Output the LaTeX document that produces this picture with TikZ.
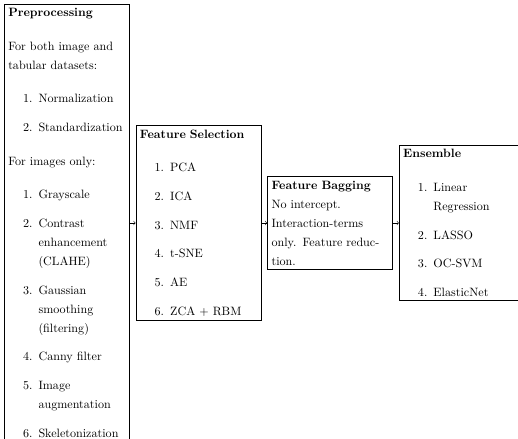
\documentclass[tikz,border=0pt]{standalone}
\usepackage{enumitem}
\usetikzlibrary{positioning}
\linespread{1.31}
\setlist[enumerate]{topsep=12pt}

\tikzset{
  stage/.style={draw, text width=3.4cm, inner sep=0.333em},
  link/.style={->}
}

\begin{document}
\begin{tikzpicture}
  \useasboundingbox (0,0) rectangle (428.1pt,-362.8pt);
  \clip (0,0) rectangle (428.1pt,-362.8pt);

  \node[stage, anchor=west] (prep) at (3.3pt,-184.3pt) {%
    \textbf{Preprocessing}\par\vspace{12pt}
    For both image and tabular datasets:
    \begin{enumerate}
      \item Normalization
      \item Standardization
    \end{enumerate}
    For images only:
    \begin{enumerate}
      \item Grayscale
      \item Contrast enhancement (CLAHE)
      \item Gaussian smoothing (filtering)
      \item Canny filter
      \item Image augmentation
      \item Skeletonization
    \end{enumerate}};
  \node[stage, right=5pt of prep] (select) {%
    \textbf{Feature Selection}
    \begin{enumerate}
      \item PCA
      \item ICA
      \item NMF
      \item t-SNE
      \item AE
      \item ZCA + RBM
    \end{enumerate}};
  \node[stage, right=5pt of select] (bagging) {%
    \textbf{Feature Bagging}\\
    No intercept.\\
    Interaction-terms only. Feature reduction.};
  \node[stage, right=5pt of bagging] (ensemble) {%
    \textbf{Ensemble}
    \begin{enumerate}
      \item Linear Regression
      \item LASSO
      \item OC-SVM
      \item ElasticNet
    \end{enumerate}};

  \draw[link] (prep) -- (select);
  \draw[link] (select) -- (bagging);
  \draw[link] (bagging) -- (ensemble);
\end{tikzpicture}
\end{document}
